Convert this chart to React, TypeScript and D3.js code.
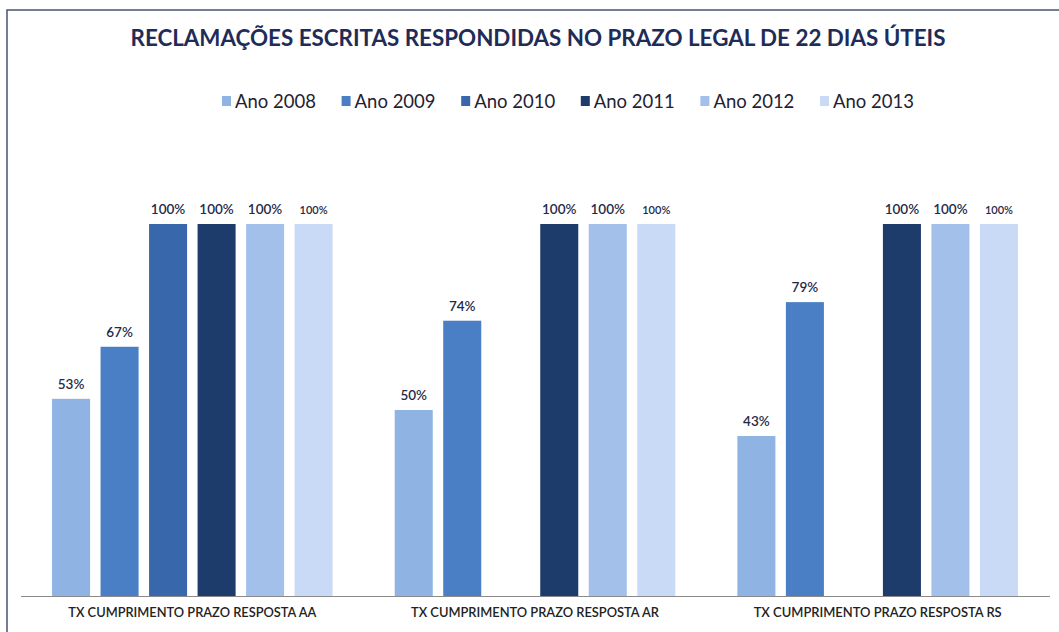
import React from "react";
import * as d3 from "d3";

const categories = [
  "TX CUMPRIMENTO PRAZO RESPOSTA AA",
  "TX CUMPRIMENTO PRAZO RESPOSTA AR",
  "TX CUMPRIMENTO PRAZO RESPOSTA RS",
];
const years = ["Ano 2008", "Ano 2009", "Ano 2010", "Ano 2011", "Ano 2012", "Ano 2013"];
const values2008 = [53, 50, 43];
const values2009 = [67, 74, 79];
const values2010: (number | null)[] = [100, null, null];
const values2011 = [100, 100, 100];
const values2012 = [100, 100, 100];
const values2013 = [100, 100, 100];
const series = [values2008, values2009, values2010, values2011, values2012, values2013];
const colors = ["#8fb4e3", "#4a7fc6", "#3868ab", "#1d3b6b", "#a3c0ea", "#c8daf6"];
const title = "RECLAMAÇÕES ESCRITAS RESPONDIDAS NO PRAZO LEGAL DE 22 DIAS ÚTEIS";

const W = 1059;
const H = 632;

export default function App() {
  const x0 = d3.scaleBand<string>().domain(categories).range([21, 1049]).padding(0);
  const x1 = d3
    .scaleBand<string>()
    .domain(years)
    .range([0, x0.bandwidth()])
    .paddingInner(0.216)
    .paddingOuter(0.64);
  const y = d3.scaleLinear().domain([0, 100]).range([596, 224]);
  const font = "Lato, 'Open Sans', sans-serif";

  return (
    <svg
      width={W}
      height={H}
      style={{ position: "absolute", left: 0, top: 0, background: "#fff" }}
      fontFamily={font}
    >
      <rect x={0} y={0} width={W} height={H} fill="#fff" />
      <rect x={7} y={10} width={1070} height={650} fill="none" stroke="#4b5472" strokeWidth={1.5} />
      <text
        x={538}
        y={46}
        textAnchor="middle"
        fontSize={22}
        fontWeight={700}
        fill="#1f2c58"
        textLength={815}
        lengthAdjust="spacingAndGlyphs"
      >
        {title}
      </text>
      {years.map((yr, i) => {
        const lx = 222 + i * 119.6;
        return (
          <g key={yr}>
            <rect x={lx} y={96} width={9} height={10} fill={colors[i]} />
            <text x={lx + 13} y={108} fontSize={18.5} fill="#1f2233">
              {yr}
            </text>
          </g>
        );
      })}
      <line x1={21} x2={1050} y1={596.5} y2={596.5} stroke="#8a8a8a" strokeWidth={1} />
      {categories.map((cat, ci) => {
        const gx = x0(cat)!;
        return (
          <g key={cat}>
            {years.map((yr, si) => {
              const v = series[si][ci];
              if (v == null) return null;
              const bx = gx + x1(yr)!;
              const bw = x1.bandwidth();
              return (
                <g key={yr}>
                  <rect x={bx} y={y(v)} width={bw} height={y(0) - y(v)} fill={colors[si]} />
                  <text
                    x={bx + bw / 2}
                    y={y(v) - 10}
                    textAnchor="middle"
                    fontSize={si === 5 ? 11 : 13.5}
                    fontWeight={600}
                    fill="#1f2a48"
                  >
                    {v}%
                  </text>
                </g>
              );
            })}
            <text
              x={gx + x0.bandwidth() / 2}
              y={617}
              textAnchor="middle"
              fontSize={13}
              fontWeight={600}
              fill="#222"
              textLength={248}
              lengthAdjust="spacingAndGlyphs"
            >
              {cat}
            </text>
          </g>
        );
      })}
    </svg>
  );
}
